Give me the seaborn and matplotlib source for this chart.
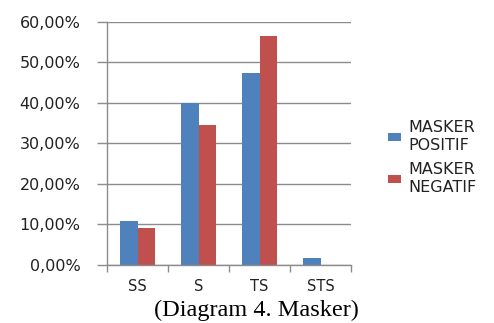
import matplotlib
matplotlib.use("Agg")
import matplotlib.pyplot as plt
import seaborn as sns
import pandas as pd
from matplotlib.ticker import FuncFormatter, FixedLocator

categories = ["SS", "S", "TS", "STS"]
series = ["MASKER POSITIF", "MASKER NEGATIF"]
positif = [10.8, 40.0, 47.3, 1.7]
negatif = [9.0, 34.4, 56.5, 0.0]
y_ticks = [0, 10, 20, 30, 40, 50, 60]
caption = "(Diagram 4. Masker)"

df = pd.DataFrame({
    "kategori": categories * 2,
    "seri": [series[0]] * 4 + [series[1]] * 4,
    "nilai": positif + negatif,
})

sns.set_theme(style="white")
plt.rcParams["font.family"] = ["DejaVu Sans"]

fig = plt.figure(figsize=(4.94, 3.23), dpi=100)
ax = fig.add_axes([107 / 494, 1 - 265 / 323, (351 - 107) / 494, (265 - 21.5) / 323])

sns.barplot(data=df, x="kategori", y="nilai", hue="seri", order=categories,
            hue_order=series, palette=["#4F81BD", "#C0504D"], width=0.56,
            gap=0, saturation=1, linewidth=0, ax=ax, legend=True)

gray = "#8c8c8c"
ax.set_ylim(0, 60)
ax.set_xlim(-0.5, 3.5)
ax.yaxis.set_major_locator(FixedLocator(y_ticks))
ax.yaxis.set_major_formatter(FuncFormatter(lambda v, p: f"{v:.2f}".replace(".", ",") + "%"))
ax.grid(axis="y", color=gray, linewidth=1)
ax.set_axisbelow(True)
for s in ["top", "right"]:
    ax.spines[s].set_visible(False)
for s in ["left", "bottom"]:
    ax.spines[s].set_color(gray)
    ax.spines[s].set_linewidth(1)
ax.tick_params(axis="y", length=7, width=1, color=gray, pad=12, labelsize=11.5, labelcolor="#222222", left=True)
ax.tick_params(axis="x", which="major", length=0, pad=10, labelsize=10.5, labelcolor="#222222")
ax.set_xticks([-0.5, 0.5, 1.5, 2.5, 3.5], minor=True)
ax.tick_params(axis="x", which="minor", length=5, width=1, color=gray, bottom=True)
ax.set_xlabel("")
ax.set_ylabel("")

handles, labels = ax.get_legend_handles_labels()
ax.get_legend().remove()
fig.legend(handles, [l.replace(" ", "\n") for l in labels], loc="upper left",
           bbox_to_anchor=(374 / 494, 1 - 106 / 323), frameon=False,
           handlelength=0.8, handleheight=0.35, handletextpad=0.45,
           labelspacing=0.6, fontsize=11.5, labelcolor="#222222")

fig.text(256 / 494, 2 / 323, caption, family="Liberation Serif", fontsize=17.5,
         ha="center", va="bottom", color="black")

fig.savefig("out.png", dpi=100)
